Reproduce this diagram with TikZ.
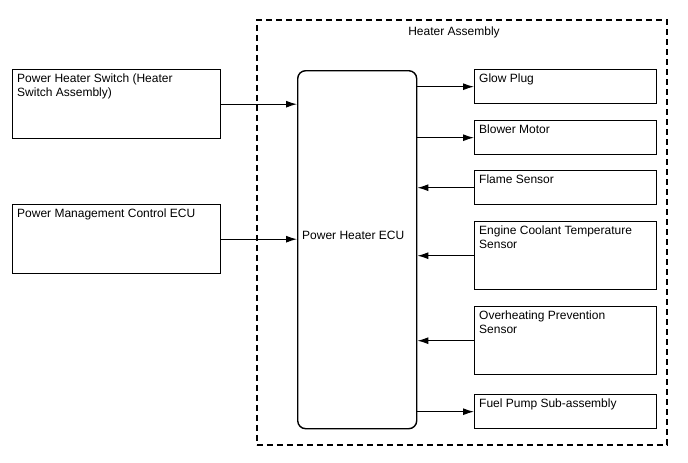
\documentclass[tikz,border=0pt]{standalone}
\usepackage{fontspec}
\setmainfont{Liberation Sans}
\usetikzlibrary{arrows.meta}
\begin{document}
\begin{tikzpicture}[x=1pt,y=-1pt,
  blk/.style={draw,line width=1.4pt,anchor=north west,inner sep=0pt},
  lbl/.style={anchor=north west,align=left,inner xsep=5pt,inner ysep=5pt,font=\fontsize{12}{14}\selectfont},
  arr/.style={line width=1.1pt,-{Latex[length=11pt,width=7pt]}}]
\useasboundingbox (0,0) rectangle (688,463);
\node[draw,line width=1.6pt,dash pattern=on 6pt off 4pt,anchor=north west,inner sep=0pt,
  minimum width=410,minimum height=425] (asm) at (256,19) {};
\node[lbl,anchor=center,inner sep=0pt] (asmname) at (454,32) {Heater Assembly};
\node[blk,minimum width=208,minimum height=69,label={[lbl]north west:Power Heater Switch (Heater\\Switch Assembly)}] (phs) at (12,69) {};
\node[blk,minimum width=208,minimum height=69,label={[lbl]north west:Power Management Control ECU}] (pmc) at (12,204) {};
\node[blk,rounded corners=8pt,minimum width=119,minimum height=358,label={[lbl,anchor=west,yshift=14pt]west:Power Heater ECU}] (ecu) at (297,70) {};
\node[blk,minimum width=182,minimum height=34,label={[lbl]north west:Glow Plug}] (glow) at (474,69) {};
\node[blk,minimum width=182,minimum height=34,label={[lbl]north west:Blower Motor}] (blower) at (474,120) {};
\node[blk,minimum width=182,minimum height=34,label={[lbl]north west:Flame Sensor}] (flame) at (474,170) {};
\node[blk,minimum width=182,minimum height=68,label={[lbl]north west:Engine Coolant Temperature\\Sensor}] (ect) at (474,221) {};
\node[blk,minimum width=182,minimum height=68,label={[lbl]north west:Overheating Prevention\\Sensor}] (ohp) at (474,306) {};
\node[blk,minimum width=182,minimum height=34,label={[lbl]north west:Fuel Pump Sub-assembly}] (fuel) at (474,394) {};
\draw[arr] (phs.east) -- (phs.east -| ecu.west);
\draw[arr] (pmc.east) -- (pmc.east -| ecu.west);
\foreach \b in {glow,blower,fuel}
  \draw[arr] (ecu.east |- \b.west) -- (\b.west);
\foreach \b in {flame,ect,ohp}
  \draw[arr] (\b.west) -- (ecu.east |- \b.west);
\end{tikzpicture}
\end{document}
